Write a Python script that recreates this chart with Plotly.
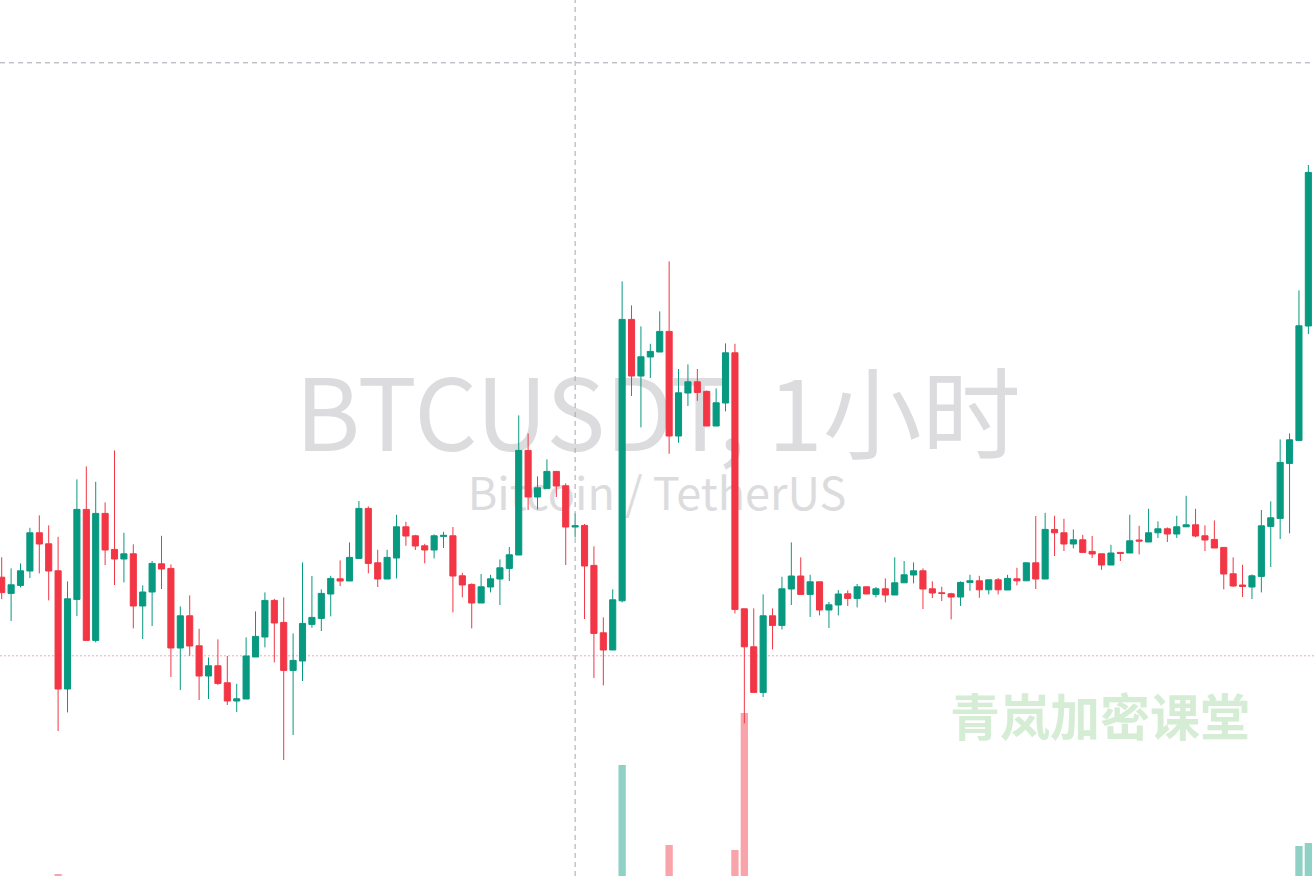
import pandas as pd
import plotly.graph_objects as go

# ---------------- data (BTCUSDT, 1h candles) ----------------
times = pd.date_range("2024-06-10 00:00", periods=140, freq="h")

open_ = [67114, 67033, 67073, 67145, 67336, 67281, 67146, 66555, 67003, 67453,
         66798, 67433, 67253, 67205, 67231, 66970, 67040, 67181, 67158, 66760,
         66921, 66771, 66620, 66671, 66586, 66495, 66505, 66715, 66815, 66998,
         66888, 66648, 66695, 66878, 66908, 67030, 67106, 67095, 67208, 67458,
         67186, 67105, 67210, 67366, 67321, 67271, 67250, 67318, 67321, 67121,
         67078, 66985, 67065, 67105, 67158, 67225, 67748, 67515, 67558, 67643,
         67571, 67365, 67373, 67173, 66836, 66750, 66996, 68403, 68120, 68215,
         68240, 68343, 67820, 68035, 68091, 68043, 67870, 67985, 68236, 66956,
         66766, 66538, 66921, 66873, 67055, 67120, 67028, 67091, 66950, 66975,
         67031, 67008, 67066, 67028, 67056, 67025, 67086, 67125, 67146, 67056,
         67036, 67031, 67015, 67088, 67096, 67051, 67101, 67050, 67106, 67096,
         67186, 67105, 67353, 67336, 67280, 67301, 67243, 67231, 67175, 67238,
         67235, 67300, 67290, 67336, 67356, 67330, 67366, 67376, 67321, 67303,
         67263, 67131, 67075, 67065, 67118, 67368, 67408, 67683, 67798, 68370]

high = [67214, 67158, 67183, 67361, 67423, 67373, 67316, 67093, 67603, 67668,
        67591, 67488, 67748, 67336, 67278, 67073, 67195, 67321, 67178, 66968,
        67023, 66856, 66713, 66803, 66720, 66581, 66813, 66943, 67038, 67006,
        67013, 66833, 67188, 67120, 67053, 67121, 67198, 67288, 67495, 67468,
        67251, 67251, 67426, 67391, 67326, 67281, 67328, 67341, 67365, 67136,
        67083, 67130, 67126, 67203, 67265, 67923, 67833, 67618, 67703, 67643,
        67583, 67433, 67380, 67268, 66913, 67053, 68593, 68473, 68368, 68281,
        68443, 68693, 68155, 68178, 68155, 68048, 68058, 68283, 68281, 66956,
        66958, 67028, 66958, 67116, 67288, 67213, 67126, 67091, 66990, 67050,
        67048, 67080, 67066, 67065, 67108, 67213, 67195, 67188, 67158, 67093,
        67066, 67036, 67093, 67126, 67121, 67101, 67110, 67126, 67161, 67186,
        67420, 67436, 67421, 67406, 67353, 67326, 67320, 67231, 67276, 67238,
        67426, 67371, 67456, 67393, 67363, 67421, 67521, 67456, 67373, 67398,
        67263, 67213, 67176, 67128, 67450, 67493, 67803, 67833, 68548, 69175]

low = [67004, 66895, 67063, 67110, 67133, 66998, 66345, 66438, 66920, 66798,
       66788, 67175, 67075, 67088, 66858, 66805, 66870, 67055, 66615, 66550,
       66721, 66500, 66505, 66575, 66475, 66440, 66505, 66715, 66763, 66688,
       66200, 66325, 66595, 66861, 66845, 66918, 67070, 67095, 67208, 67133,
       67065, 67105, 67108, 67271, 67250, 67183, 67208, 67260, 66938, 67013,
       66858, 66985, 67038, 66975, 67095, 67225, 67450, 67453, 67558, 67515,
       67175, 67313, 66905, 66610, 66573, 66750, 66988, 68020, 67863, 68110,
       68240, 67731, 67786, 67970, 67996, 67870, 67870, 67943, 66933, 66383,
       66538, 66515, 66753, 66853, 66975, 67028, 66915, 66923, 66860, 66923,
       66970, 66963, 67030, 67013, 66988, 67025, 67086, 67083, 66955, 67010,
       66995, 66903, 66970, 67046, 67011, 67028, 67028, 67050, 67073, 67096,
       67055, 67105, 67220, 67245, 67258, 67238, 67210, 67151, 67175, 67195,
       67235, 67228, 67290, 67310, 67290, 67310, 67366, 67313, 67245, 67260,
       67053, 67066, 67015, 67005, 67038, 67165, 67305, 67333, 67798, 68330]

close = [67037, 67076, 67146, 67336, 67280, 67145, 66555, 67006, 67453, 66798,
         67433, 67250, 67205, 67231, 66970, 67040, 67183, 67155, 66760, 66921,
         66770, 66620, 66671, 66583, 66495, 66506, 66720, 66818, 66998, 66885,
         66648, 66698, 66883, 66913, 67033, 67108, 67095, 67213, 67458, 67183,
         67105, 67213, 67366, 67320, 67270, 67250, 67321, 67323, 67120, 67075,
         66985, 67066, 67106, 67161, 67226, 67748, 67515, 67561, 67643, 67570,
         67365, 67371, 67170, 66833, 66750, 67001, 68403, 68120, 68216, 68243,
         68343, 67820, 68036, 68091, 68038, 67870, 67986, 68236, 66953, 66766,
         66538, 66921, 66873, 67056, 67120, 67028, 67091, 66950, 66976, 67030,
         67008, 67066, 67030, 67056, 67025, 67086, 67126, 67146, 67055, 67035,
         67033, 67015, 67088, 67096, 67051, 67101, 67051, 67108, 67096, 67186,
         67105, 67353, 67336, 67280, 67301, 67238, 67230, 67175, 67235, 67233,
         67296, 67295, 67336, 67356, 67330, 67366, 67376, 67320, 67300, 67260,
         67130, 67070, 67068, 67121, 67371, 67411, 67688, 67801, 68371, 69138]

volume = [60, 45, 40, 80, 55, 70, 220, 150, 170, 180,
          175, 70, 110, 40, 90, 50, 60, 45, 130, 95,
          70, 85, 45, 60, 75, 40, 100, 80, 90, 60,
          160, 95, 120, 50, 60, 55, 40, 70, 120, 110,
          55, 50, 80, 35, 30, 30, 40, 25, 110, 45,
          60, 50, 35, 55, 50, 185, 120, 55, 60, 45,
          95, 40, 110, 150, 120, 130, 1310, 170, 130, 60,
          90, 510, 150, 80, 50, 90, 80, 140, 460, 1830,
          190, 175, 90, 120, 110, 70, 65, 75, 40, 45,
          30, 35, 25, 25, 35, 60, 45, 30, 70, 35,
          30, 45, 55, 30, 40, 35, 35, 45, 35, 60,
          80, 120, 60, 50, 35, 45, 30, 45, 45, 25,
          60, 40, 55, 35, 30, 45, 40, 50, 40, 45,
          90, 65, 45, 60, 140, 90, 170, 160, 500, 530]

watermark_title = "BTCUSDT, 1小时"
watermark_sub = "Bitcoin / TetherUS"
brand_text = "青岚加密课堂"

crosshair_index = 61
crosshair_price = 69686
marked_price = 66721

price_range = [65620, 70000]
volume_range = [200, 8960]

# ---------------- styling ----------------
GREEN = "#089981"
RED = "#F23645"
GREEN_VOL = "rgba(8,153,129,0.45)"
RED_VOL = "rgba(242,54,69,0.45)"

hour = pd.Timedelta(hours=1)
x0 = times[0] - 0.181 * hour
x1 = times[-1] + 0.60 * hour
span = x1 - x0

vol_colors = [GREEN_VOL if c >= o else RED_VOL for o, c in zip(open_, close)]

fig = go.Figure()

# watermark texts (bottom layer)
fig.add_trace(go.Scatter(
    x=[x0 + span * (658 / 1314)], y=[1 - 426 / 876],
    mode="text", text=[watermark_title],
    textfont=dict(family="Noto Sans CJK SC", size=99, color="#dcdcde"),
    hoverinfo="skip", showlegend=False, xaxis="x", yaxis="y"))
fig.add_trace(go.Scatter(
    x=[x0 + span * (657 / 1314)], y=[1 - 499 / 876],
    mode="text", text=[watermark_sub],
    textfont=dict(family="Noto Sans CJK SC", size=45, color="#dcdcde"),
    hoverinfo="skip", showlegend=False, xaxis="x", yaxis="y"))
fig.add_trace(go.Scatter(
    x=[x0 + span * (1100 / 1314)], y=[1 - 723 / 876],
    mode="text", text=[brand_text],
    textfont=dict(family="Noto Sans CJK SC", size=50, color="#d6edd5", weight="bold"),
    hoverinfo="skip", showlegend=False, xaxis="x", yaxis="y"))

# volume
fig.add_trace(go.Bar(
    x=times, y=volume, marker=dict(color=vol_colors, line=dict(width=0)),
    width=0.78 * 3600000, hoverinfo="skip", showlegend=False,
    xaxis="x", yaxis="y2"))

# candles
fig.add_trace(go.Candlestick(
    x=times, open=open_, high=high, low=low, close=close,
    increasing=dict(line=dict(color=GREEN, width=1), fillcolor=GREEN),
    decreasing=dict(line=dict(color=RED, width=1), fillcolor=RED),
    whiskerwidth=0, showlegend=False, xaxis="x", yaxis="y3"))

shapes = [
    dict(type="line", xref="paper", x0=0, x1=1, yref="y3",
         y0=marked_price, y1=marked_price, layer="below",
         line=dict(color="rgba(242,54,69,0.45)", width=1, dash="2px,2px")),
    dict(type="line", xref="paper", x0=0, x1=1, yref="y3",
         y0=crosshair_price, y1=crosshair_price, layer="above",
         line=dict(color="#a3a6af", width=1, dash="5px,4px")),
    dict(type="line", xref="x", x0=times[crosshair_index], x1=times[crosshair_index],
         yref="paper", y0=0, y1=1, layer="above",
         line=dict(color="#a3a6af", width=1, dash="5px,4px")),
]

fig.update_layout(
    width=1314, height=876,
    margin=dict(l=0, r=0, t=0, b=0),
    paper_bgcolor="white", plot_bgcolor="white",
    showlegend=False,
    boxgap=0.35, boxgroupgap=0,
    shapes=shapes,
    xaxis=dict(type="date", range=[x0, x1], visible=False,
               rangeslider=dict(visible=False), showgrid=False),
    yaxis=dict(range=[0, 1], visible=False, showgrid=False, fixedrange=True),
    yaxis2=dict(range=volume_range, overlaying="y", visible=False, showgrid=False),
    yaxis3=dict(range=price_range, overlaying="y", visible=False, showgrid=False),
    hovermode=False,
)

fig.write_html(
    "out.html",
    config={"displayModeBar": False},
    post_script="document.body.style.margin='0';document.body.style.overflow='hidden';",
)
